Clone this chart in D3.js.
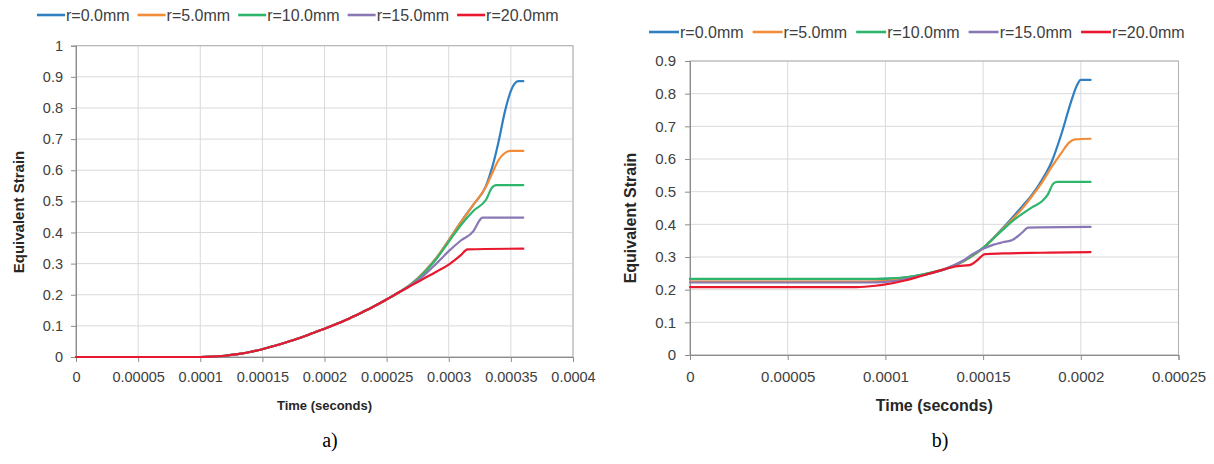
<!DOCTYPE html>
<html>
<head>
<meta charset="utf-8">
<script src="https://cdn.jsdelivr.net/npm/d3@7"></script>
<style>
  html, body { margin: 0; padding: 0; background: #fff; }
  svg { display: block; font-family: "Liberation Sans", Arial, sans-serif; }
</style>
</head>
<body>
<svg id="fig" width="1214" height="464"></svg>
<script>
// ---- series labels and colours ----
const seriesNames  = ["r=0.0mm", "r=5.0mm", "r=10.0mm", "r=15.0mm", "r=20.0mm"];
const seriesColors = ["#2f7fc1", "#f28c38", "#2db56b", "#8a78b5", "#e8192f"];

// ---- panel a: tick labels ----
const xTicksA      = [0, 0.00005, 0.0001, 0.00015, 0.0002, 0.00025, 0.0003, 0.00035, 0.0004];
const xTickLabelsA = ["0", "0.00005", "0.0001", "0.00015", "0.0002", "0.00025", "0.0003", "0.00035", "0.0004"];
const yTicksA      = [0, 0.1, 0.2, 0.3, 0.4, 0.5, 0.6, 0.7, 0.8, 0.9, 1];
const yTickLabelsA = ["0", "0.1", "0.2", "0.3", "0.4", "0.5", "0.6", "0.7", "0.8", "0.9", "1"];

// ---- panel a: shared early part of every curve (time in s, equivalent strain) ----
const timeA_common   = [0, 0.00005, 0.0001, 0.00011, 0.00012, 0.00013, 0.00014, 0.00015, 0.00016, 0.00017,
                        0.00018, 0.00019, 0.0002, 0.00021, 0.00022, 0.00023, 0.00024, 0.00025, 0.00026];
const strainA_common = [0, 0, 0, 0.001, 0.004, 0.009, 0.016, 0.025, 0.036, 0.048,
                        0.061, 0.076, 0.091, 0.107, 0.124, 0.143, 0.163, 0.185, 0.208];

// ---- panel a: individual tails ----
const timeA_r0   = [0.00027, 0.00028, 0.00029, 0.0003, 0.00031, 0.00032, 0.00033, 0.000335, 0.00034, 0.000345, 0.00035, 0.000353, 0.000356, 0.00036];
const strainA_r0 = [0.235, 0.272, 0.318, 0.375, 0.435, 0.49, 0.55, 0.61, 0.69, 0.785, 0.855, 0.878, 0.886, 0.886];
const timeA_r5   = [0.00027, 0.00028, 0.00029, 0.0003, 0.00031, 0.00032, 0.00033, 0.000335, 0.00034, 0.000345, 0.00035, 0.00036];
const strainA_r5 = [0.235, 0.272, 0.318, 0.375, 0.435, 0.49, 0.548, 0.59, 0.632, 0.655, 0.662, 0.662];
const timeA_r10   = [0.00027, 0.00028, 0.00029, 0.0003, 0.00031, 0.00032, 0.00033, 0.000335, 0.000338, 0.00036];
const strainA_r10 = [0.234, 0.27, 0.315, 0.37, 0.425, 0.47, 0.505, 0.545, 0.552, 0.552];
const timeA_r15   = [0.00027, 0.00028, 0.00029, 0.0003, 0.00031, 0.00032, 0.000325, 0.000327, 0.00036];
const strainA_r15 = [0.232, 0.262, 0.3, 0.34, 0.375, 0.405, 0.44, 0.448, 0.448];
const timeA_r20   = [0.00027, 0.00028, 0.00029, 0.0003, 0.00031, 0.000315, 0.00036];
const strainA_r20 = [0.23, 0.252, 0.274, 0.297, 0.328, 0.346, 0.348];

// ---- panel b: tick labels ----
const xTicksB      = [0, 0.00005, 0.0001, 0.00015, 0.0002, 0.00025];
const xTickLabelsB = ["0", "0.00005", "0.0001", "0.00015", "0.0002", "0.00025"];
const yTicksB      = [0, 0.1, 0.2, 0.3, 0.4, 0.5, 0.6, 0.7, 0.8, 0.9];
const yTickLabelsB = ["0", "0.1", "0.2", "0.3", "0.4", "0.5", "0.6", "0.7", "0.8", "0.9"];

// ---- panel b: curves ----
const timeB_r0   = [0, 0.00005, 0.00009, 0.0001, 0.00011, 0.00012, 0.00013, 0.00014, 0.00015, 0.00016, 0.00017, 0.000175, 0.00018, 0.000185, 0.00019, 0.000195, 0.000198, 0.0002, 0.000205];
const strainB_r0 = [0.232, 0.232, 0.232, 0.233, 0.237, 0.247, 0.262, 0.288, 0.328, 0.388, 0.455, 0.49, 0.535, 0.59, 0.675, 0.775, 0.825, 0.842, 0.842];
const timeB_r5   = [0, 0.00005, 0.00009, 0.0001, 0.00011, 0.00012, 0.00013, 0.00014, 0.00015, 0.00016, 0.00017, 0.000175, 0.00018, 0.000185, 0.00019, 0.000194, 0.000197, 0.000205];
const strainB_r5 = [0.225, 0.225, 0.225, 0.227, 0.234, 0.246, 0.262, 0.287, 0.327, 0.386, 0.448, 0.486, 0.527, 0.575, 0.618, 0.65, 0.66, 0.662];
const timeB_r10   = [0, 0.00005, 0.00009, 0.0001, 0.00011, 0.00012, 0.00013, 0.00014, 0.00015, 0.00016, 0.000165, 0.00017, 0.000175, 0.00018, 0.000183, 0.000186, 0.000188, 0.000205];
const strainB_r10 = [0.233, 0.233, 0.233, 0.234, 0.238, 0.248, 0.262, 0.288, 0.328, 0.383, 0.41, 0.432, 0.452, 0.47, 0.49, 0.525, 0.53, 0.53];
const timeB_r15   = [0, 0.00005, 0.00009, 0.0001, 0.00011, 0.00012, 0.00013, 0.00014, 0.000145, 0.00015, 0.000155, 0.00016, 0.000165, 0.00017, 0.000173, 0.000205];
const strainB_r15 = [0.222, 0.222, 0.222, 0.224, 0.232, 0.245, 0.262, 0.29, 0.31, 0.325, 0.337, 0.345, 0.352, 0.375, 0.39, 0.392];
const timeB_r20   = [0, 0.00005, 0.000085, 0.000095, 0.0001, 0.00011, 0.00012, 0.00013, 0.000137, 0.000143, 0.000147, 0.000151, 0.00016, 0.00018, 0.000205];
const strainB_r20 = [0.208, 0.208, 0.208, 0.212, 0.216, 0.228, 0.245, 0.262, 0.272, 0.275, 0.29, 0.309, 0.311, 0.313, 0.315];

// assemble (time, strain) pairs for each panel
const zip = (t, v) => t.map((d, i) => ({ t: d, v: v[i] }));
const curvesA = [
  zip(timeA_common.concat(timeA_r0),  strainA_common.concat(strainA_r0)),
  zip(timeA_common.concat(timeA_r5),  strainA_common.concat(strainA_r5)),
  zip(timeA_common.concat(timeA_r10), strainA_common.concat(strainA_r10)),
  zip(timeA_common.concat(timeA_r15), strainA_common.concat(strainA_r15)),
  zip(timeA_common.concat(timeA_r20), strainA_common.concat(strainA_r20))
];
const curvesB = [
  zip(timeB_r0, strainB_r0), zip(timeB_r5, strainB_r5), zip(timeB_r10, strainB_r10),
  zip(timeB_r15, strainB_r15), zip(timeB_r20, strainB_r20)
];

const svg = d3.select("#fig");

function drawPanel(cfg) {
  const g = svg.append("g");
  const x = d3.scaleLinear().domain([0, cfg.xMax]).range([cfg.left, cfg.right]);
  const y = d3.scaleLinear().domain([0, cfg.yMax]).range([cfg.bottom, cfg.top]);

  // grid
  g.append("g").selectAll("line.h").data(cfg.yTicks).join("line")
    .attr("x1", cfg.left).attr("x2", cfg.right)
    .attr("y1", d => y(d)).attr("y2", d => y(d))
    .attr("stroke", "#d9d9d9").attr("stroke-width", 1);
  g.append("g").selectAll("line.v").data(cfg.xTicks).join("line")
    .attr("x1", d => x(d)).attr("x2", d => x(d))
    .attr("y1", cfg.top).attr("y2", cfg.bottom)
    .attr("stroke", "#d9d9d9").attr("stroke-width", 1);

  // plot frame
  g.append("rect")
    .attr("x", cfg.left).attr("y", cfg.top)
    .attr("width", cfg.right - cfg.left).attr("height", cfg.bottom - cfg.top)
    .attr("fill", "none").attr("stroke", "#b0b0b0").attr("stroke-width", 1);

  // axes
  const xAxis = d3.axisBottom(x).tickValues(cfg.xTicks)
    .tickFormat((d, i) => cfg.xLabels[i]).tickSize(5).tickPadding(cfg.xPad);
  const yAxis = d3.axisLeft(y).tickValues(cfg.yTicks)
    .tickFormat((d, i) => cfg.yLabels[i]).tickSize(5).tickPadding(cfg.yPad);
  const gx = g.append("g").attr("transform", `translate(0,${cfg.bottom})`).call(xAxis);
  const gy = g.append("g").attr("transform", `translate(${cfg.left},0)`).call(yAxis);
  [gx, gy].forEach(a => {
    a.select(".domain").attr("stroke", "#8c8c8c");
    a.selectAll(".tick line").attr("stroke", "#8c8c8c");
    a.selectAll(".tick text").attr("fill", "#404040")
      .style("font-family", '"Liberation Sans", Arial, sans-serif')
      .style("font-size", cfg.tickFont + "px");
  });

  // curves
  const line = d3.line().x(d => x(d.t)).y(d => y(d.v)).curve(d3.curveMonotoneX);
  g.append("g").selectAll("path").data(cfg.curves).join("path")
    .attr("d", line).attr("fill", "none")
    .attr("stroke", (d, i) => seriesColors[i])
    .attr("stroke-width", 2.2)
    .attr("stroke-linejoin", "round").attr("stroke-linecap", "round");

  // axis titles
  g.append("text")
    .attr("x", (cfg.left + cfg.right) / 2).attr("y", cfg.xTitleY)
    .attr("text-anchor", "middle").attr("dominant-baseline", "central")
    .attr("font-weight", "bold")
    .attr("font-size", cfg.xTitleFont).attr("fill", "#262626")
    .text("Time (seconds)");
  g.append("text")
    .attr("transform", `translate(${cfg.yTitleX},${cfg.yTitleMid}) rotate(-90)`)
    .attr("text-anchor", "middle").attr("dominant-baseline", "central")
    .attr("font-weight", "bold").attr("font-size", cfg.yTitleFont).attr("fill", "#262626")
    .text("Equivalent Strain");

  // legend
  const lg = g.append("g");
  let cx = cfg.legendX;
  seriesNames.forEach((name, i) => {
    lg.append("line")
      .attr("x1", cx).attr("x2", cx + cfg.legendLine)
      .attr("y1", cfg.legendY).attr("y2", cfg.legendY)
      .attr("stroke", seriesColors[i]).attr("stroke-width", 2.6);
    const t = lg.append("text")
      .attr("x", cx + cfg.legendLine + 1).attr("y", cfg.legendY)
      .attr("dominant-baseline", "central")
      .attr("font-size", cfg.legendFont).attr("fill", "#404040")
      .text(name);
    cx += cfg.legendLine + 1 + t.node().getComputedTextLength() + cfg.legendGap;
  });

  // panel letter
  g.append("text")
    .attr("x", cfg.letterX).attr("y", 447)
    .attr("text-anchor", "middle")
    .style("font-family", '"Liberation Serif", "Times New Roman", serif')
    .attr("font-size", 20).attr("fill", "#000")
    .text(cfg.letter);
}

drawPanel({
  left: 76, right: 573, top: 45.7, bottom: 357,
  xMax: 0.0004, yMax: 1,
  xTicks: xTicksA, xLabels: xTickLabelsA, yTicks: yTicksA, yLabels: yTickLabelsA,
  curves: curvesA,
  tickFont: 14.5, xPad: 10, yPad: 8,
  xTitleY: 405, xTitleFont: 13,
  yTitleX: 18, yTitleMid: 212, yTitleFont: 15,
  legendX: 37, legendY: 15, legendLine: 28, legendGap: 8, legendFont: 16,
  letter: "a)", letterX: 330
});

drawPanel({
  left: 690, right: 1178.5, top: 61, bottom: 355,
  xMax: 0.00025, yMax: 0.9,
  xTicks: xTicksB, xLabels: xTickLabelsB, yTicks: yTicksB, yLabels: yTickLabelsB,
  curves: curvesB,
  tickFont: 15, xPad: 11, yPad: 9,
  xTitleY: 405, xTitleFont: 16,
  yTitleX: 630, yTitleMid: 218, yTitleFont: 16,
  legendX: 649, legendY: 32, legendLine: 30, legendGap: 9, legendFont: 16,
  letter: "b)", letterX: 940
});
</script>
</body>
</html>
